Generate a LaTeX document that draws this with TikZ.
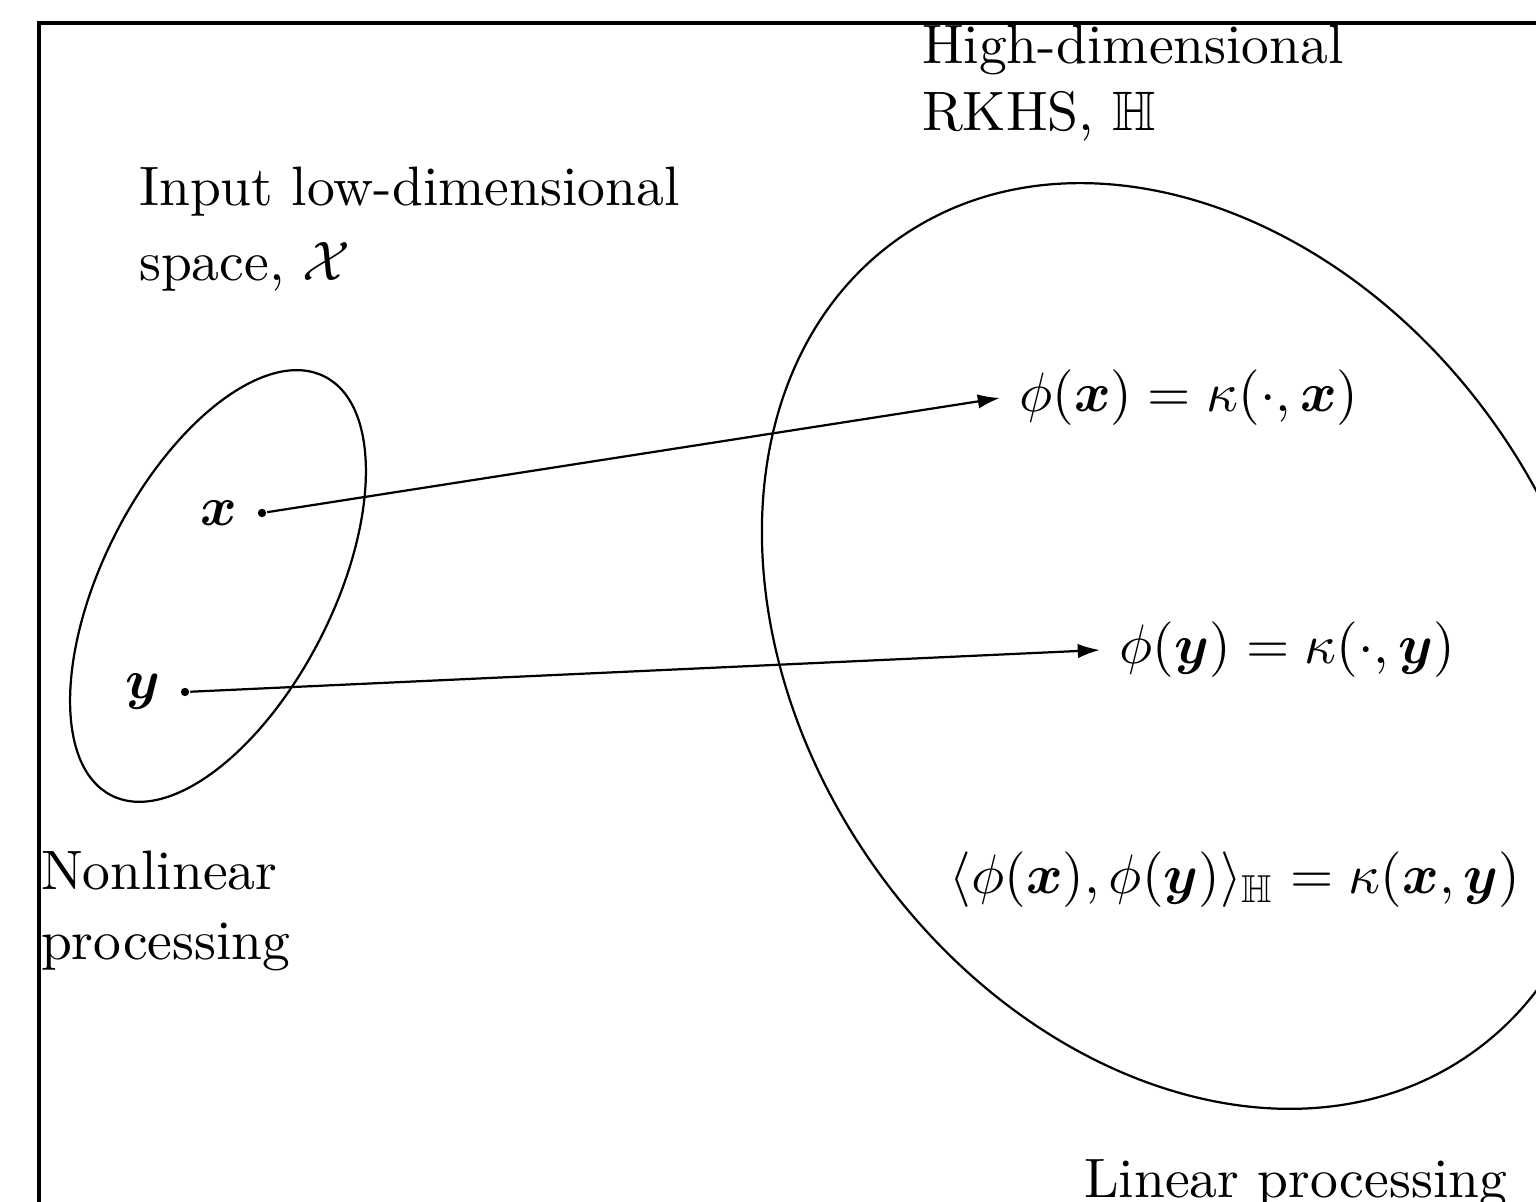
\documentclass[tikz,border=0pt]{standalone}
\usepackage{amsmath,amssymb}
\usetikzlibrary{arrows.meta,positioning}

\begin{document}
\begin{tikzpicture}[x=0.18pt, y=-0.18pt,
    dot/.style={circle, fill, inner sep=0pt, minimum size=1.5pt},
    map/.style={-{Latex[length=4pt,width=2.6pt]}, thin},
    lbl/.style={align=left, anchor=north west, inner sep=0pt}]
    \useasboundingbox (0,0) rectangle (1536,1202);
    \clip (0,0) rectangle (1536,1202);
    % Frame
    \draw[semithick] (39,23) rectangle (1600,1260);
    % Input space
    \draw[rotate around={63:(218,586)}] (218,586) ellipse (235 and 115);
    \node[lbl] (inlbl) at (138,166) {Input low-dimensional\\[1.5pt] space, $\mathcal{X}$};
    \node[dot] (px) at (262,513) {};
    \node[dot] (py) at (185,692) {};
    \node[left=0pt of px] {$\boldsymbol{x}$};
    \node[left=0pt of py] {$\boldsymbol{y}$};
    \node[lbl] (nonlin) at (40,850) {Nonlinear\\[0.5pt] processing};
    % Feature space
    \draw[rotate around={-55:(1185,646)}] (1185,646) ellipse (498 and 381);
    \node[lbl] (hlbl) at (921,24) {High-dimensional\\ RKHS, $\mathbb{H}$};
    \node[anchor=west] (phix) at (1000,398) {$\phi(\boldsymbol{x}) = \kappa(\cdot,\boldsymbol{x})$};
    \node[anchor=west] (phiy) at (1100,650) {$\phi(\boldsymbol{y}) = \kappa(\cdot,\boldsymbol{y})$};
    \node (inner) at (1235,880) {$\langle\phi(\boldsymbol{x}),\phi(\boldsymbol{y})\rangle_{\mathbb{H}} = \kappa(\boldsymbol{x},\boldsymbol{y})$};
    \node[lbl] (lin) at (1083,1158) {Linear processing};
    % Mappings
    \draw[map] (px) -- (phix.west);
    \draw[map] (py) -- (phiy.west);
\end{tikzpicture}
\end{document}
